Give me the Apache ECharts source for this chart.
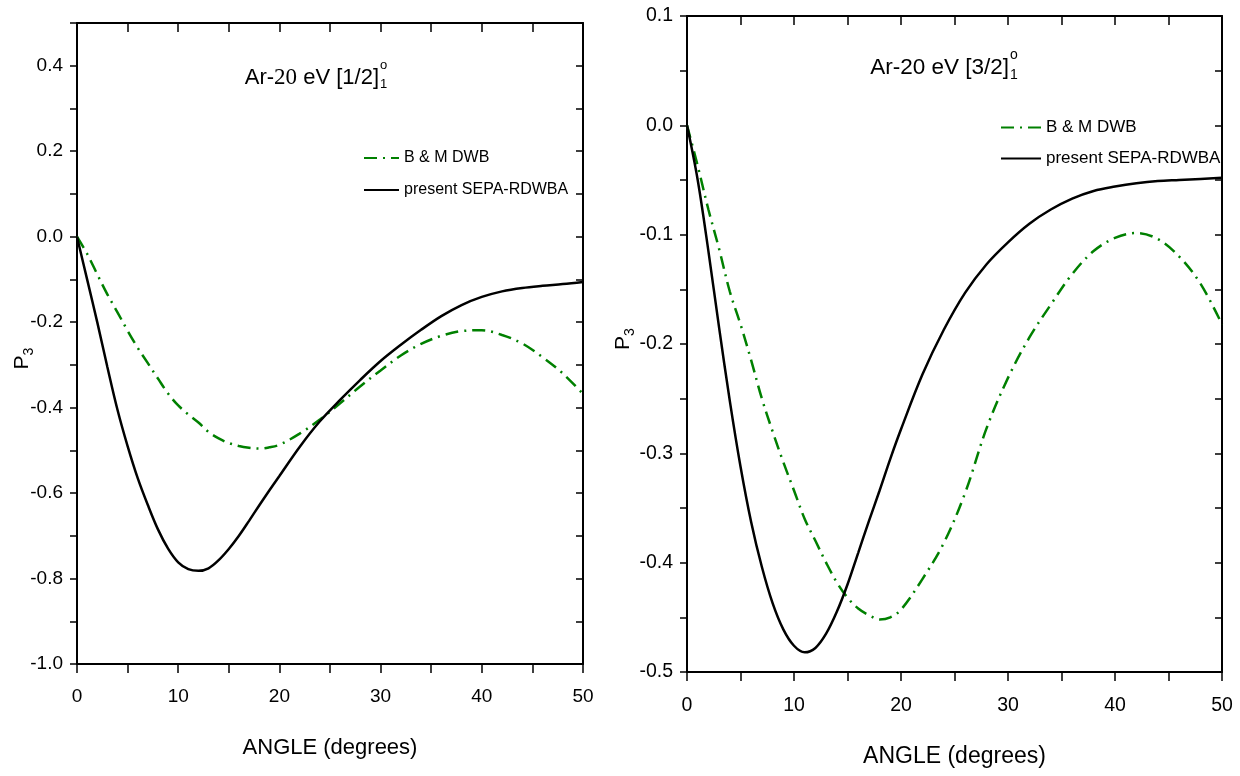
<!DOCTYPE html>
<html><head><meta charset="utf-8">
<script src="https://cdn.jsdelivr.net/npm/echarts@6/dist/echarts.min.js"></script>
<style>html,body{margin:0;padding:0;background:#fff}#c{width:1240px;height:776px}</style>
</head><body><div id="c"></div>
<script>
const FONT = "'Liberation Sans Narrow','Arial Narrow','Liberation Sans',sans-serif";
const SERIF = "'Liberation Serif','Times New Roman',serif";

// angle grid (degrees)
const angles = [0,1,2,3,4,5,6,7,8,9,10,11,12,13,14,15,16,17,18,19,20,22,24,26,28,30,32,34,36,38,40,42,44,46,48,50];

// Left panel: Ar-20 eV [1/2]°1
const leftDWB  = [0,-0.04,-0.088,-0.135,-0.177,-0.22,-0.26,-0.296,-0.332,-0.367,-0.395,-0.416,-0.435,-0.457,-0.472,-0.483,-0.49,-0.494,-0.496,-0.493,-0.487,-0.461,-0.428,-0.39,-0.35,-0.313,-0.278,-0.251,-0.232,-0.221,-0.219,-0.23,-0.25,-0.282,-0.32,-0.368];
const leftSEPA = [0,-0.1,-0.2,-0.305,-0.405,-0.49,-0.565,-0.628,-0.685,-0.73,-0.762,-0.778,-0.782,-0.776,-0.757,-0.731,-0.70,-0.665,-0.629,-0.594,-0.56,-0.492,-0.432,-0.382,-0.335,-0.291,-0.253,-0.218,-0.186,-0.16,-0.141,-0.128,-0.12,-0.115,-0.111,-0.106];

// Right panel: Ar-20 eV [3/2]°1
const rightDWB  = [0,-0.037,-0.077,-0.113,-0.152,-0.182,-0.215,-0.25,-0.28,-0.308,-0.334,-0.36,-0.38,-0.4,-0.418,-0.432,-0.442,-0.448,-0.452,-0.45,-0.443,-0.415,-0.382,-0.336,-0.277,-0.231,-0.194,-0.164,-0.136,-0.115,-0.103,-0.0985,-0.104,-0.12,-0.145,-0.182];
const rightSEPA = [0,-0.05,-0.115,-0.185,-0.252,-0.312,-0.363,-0.404,-0.437,-0.461,-0.476,-0.482,-0.478,-0.465,-0.445,-0.42,-0.391,-0.362,-0.334,-0.305,-0.278,-0.228,-0.187,-0.153,-0.127,-0.107,-0.09,-0.077,-0.067,-0.06,-0.056,-0.053,-0.051,-0.05,-0.049,-0.048];

// tick labels
const xTickLabels = ['0','10','20','30','40','50'];
const leftYLabels = ['0.4','0.2','0.0','-0.2','-0.4','-0.6','-0.8','-1.0'];
const rightYLabels = ['0.1','0.0','-0.1','-0.2','-0.3','-0.4','-0.5'];

const seriesNames = ['B & M DWB','present SEPA-RDWBA'];
const GREEN = '#008000';

function fmt1(v){ if (Math.abs(v) < 1e-9) return '0.0'; return v.toFixed(1); }

function xAxesFor(gi, o){
  return [{
    type:'value', gridIndex:gi, position:'bottom', min:0, max:50, interval:5,
    axisLine:{show:true,onZero:false,lineStyle:{color:'#000',width:2}},
    axisTick:{show:true,inside:false,length:9,lineStyle:{color:'#000',width:1.5}},
    splitLine:{show:false},
    axisLabel:{color:'#000',fontFamily:FONT,fontSize:o.labelSize,margin:o.labelMargin,
      formatter:v=>xTickLabels.includes(String(Math.round(v*1000)/1000))?String(Math.round(v)):''},
    name:'ANGLE (degrees)', nameLocation:'middle', nameGap:o.nameGap, nameMoveOverlap:false,
    nameTextStyle:{color:'#000',fontFamily:FONT,fontSize:o.nameSize}
  },{
    type:'value', gridIndex:gi, position:'top', min:0, max:50, interval:5,
    axisLine:{show:true,onZero:false,lineStyle:{color:'#000',width:2}},
    axisTick:{show:true,inside:true,length:9,lineStyle:{color:'#000',width:1.5}},
    splitLine:{show:false}, axisLabel:{show:false}
  }];
}

function yAxesFor(gi, o){
  return [{
    type:'value', gridIndex:gi, position:'left', min:o.min, max:o.max, interval:o.interval,
    axisLine:{show:true,onZero:false,lineStyle:{color:'#000',width:2}},
    axisTick:{show:true,inside:false,length:7,lineStyle:{color:'#000',width:1.5}},
    splitLine:{show:false},
    axisLabel:{color:'#000',fontFamily:FONT,fontSize:o.labelSize,margin:o.labelMargin,
      formatter:v=>{const s=fmt1(v); return o.labels.includes(s)&&Math.abs(v*10-Math.round(v*10))<1e-6?s:'';}},
    name:'{p|P}{s|3}', nameLocation:'middle', nameGap:o.nameGap, nameMoveOverlap:false,
    nameTextStyle:{color:'#000',padding:o.namePad,
      rich:{p:{fontFamily:FONT,fontSize:21,lineHeight:28,color:'#000'},
            s:{fontFamily:FONT,fontSize:14,lineHeight:14,verticalAlign:'bottom',color:'#000'}}}
  },{
    type:'value', gridIndex:gi, position:'right', min:o.min, max:o.max, interval:o.interval,
    axisLine:{show:true,onZero:false,lineStyle:{color:'#000',width:2}},
    axisTick:{show:true,inside:true,length:7,lineStyle:{color:'#000',width:1.5}},
    splitLine:{show:false}, axisLabel:{show:false}
  }];
}

function mk(xs, ys){ return xs.map((a,i)=>[a, ys[i]]); }

function seriesFor(gi, dwb, sepa){
  return [{
    name:seriesNames[0], type:'line', xAxisIndex:gi*2, yAxisIndex:gi*2, smooth:0.35,
    symbol:'none', data:mk(angles,dwb),
    lineStyle:{color:GREEN,width:2.5,type:[13,6,2,6]}, itemStyle:{color:GREEN}, z:3
  },{
    name:seriesNames[1], type:'line', xAxisIndex:gi*2, yAxisIndex:gi*2, smooth:0.35,
    symbol:'none', data:mk(angles,sepa),
    lineStyle:{color:'#000',width:2.5,type:'solid'}, itemStyle:{color:'#000'}, z:4
  }];
}

const titleStyle = (size)=>({fontFamily:FONT,fontSize:size,fontWeight:'normal',color:'#000'});

const chart = echarts.init(document.getElementById('c'), null, {renderer:'canvas'});
const option = {
  backgroundColor:'#fff',
  animation:false,
  title:[
    {text:'{a|Ar-}{b|20}{a| eV [1/2]}', right:1240-379, top:66, padding:0,
      textStyle:{fontWeight:'normal',rich:{a:{fontFamily:FONT,fontSize:22,fontWeight:'normal',color:'#000'},b:{fontFamily:SERIF,fontSize:23,fontWeight:'normal',color:'#000'}}}},
    {text:'o', left:380, top:59, padding:0, textStyle:titleStyle(13)},
    {text:'1', left:380, top:78, padding:0, textStyle:titleStyle(13)},
    {text:'Ar-20 eV [3/2]', right:1240-1009, top:56, padding:0, textStyle:titleStyle(22.5)},
    {text:'o', left:1010, top:48, padding:0, textStyle:titleStyle(14)},
    {text:'1', left:1010, top:68, padding:0, textStyle:titleStyle(14)}
  ],
  legend:[
    {orient:'vertical', left:363, top:150, padding:0, itemWidth:35, itemHeight:14, itemGap:16,
      itemStyle:{opacity:0},
      data:seriesNames, textStyle:{fontFamily:FONT,fontSize:16,color:'#000'}, selectedMode:false},
    {orient:'vertical', left:1000, top:119, padding:0, itemWidth:40, itemHeight:14, itemGap:14,
      itemStyle:{opacity:0},
      data:seriesNames, textStyle:{fontFamily:FONT,fontSize:17,color:'#000'}, selectedMode:false}
  ],
  grid:[
    {left:77, top:23, width:506, height:641, containLabel:false},
    {left:687, top:16, width:535, height:656, containLabel:false}
  ],
  xAxis:[...xAxesFor(0,{labelSize:19,labelMargin:23,nameGap:73,nameSize:22}),
         ...xAxesFor(1,{labelSize:19.5,labelMargin:24,nameGap:73,nameSize:23})],
  yAxis:[...yAxesFor(0,{min:-1.0,max:0.5,interval:0.1,labels:leftYLabels,labelSize:19,labelMargin:14,nameGap:41,namePad:[0,30,0,0]}),
         ...yAxesFor(1,{min:-0.5,max:0.1,interval:0.05,labels:rightYLabels,labelSize:19.5,labelMargin:14,nameGap:50,namePad:[0,0,0,10]})],
  series:[...seriesFor(0,leftDWB,leftSEPA), ...seriesFor(1,rightDWB,rightSEPA)]
};
chart.setOption(option);
</script>
</body></html>
